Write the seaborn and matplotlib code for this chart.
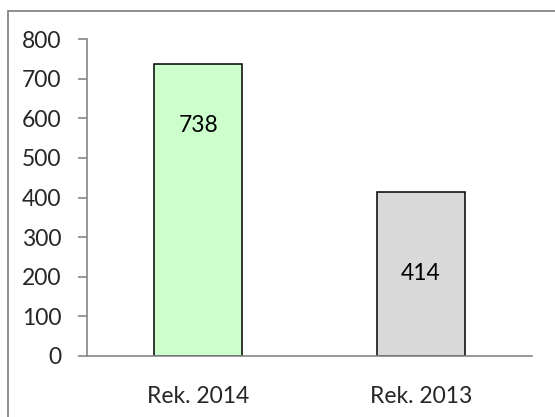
import matplotlib
matplotlib.use("Agg")
import matplotlib.pyplot as plt
from matplotlib.lines import Line2D
import seaborn as sns
import pandas as pd

categories = ["Rek. 2014", "Rek. 2013"]
values = [738, 414]
bar_colors = ["#CCFFCC", "#D9D9D9"]
label_heights = [583, 207]
y_ticks = [0, 100, 200, 300, 400, 500, 600, 700, 800]

sns.set_style("white")
plt.rcParams["font.family"] = ["Lato", "DejaVu Sans"]

df = pd.DataFrame({"category": categories, "value": values})

fig = plt.figure(figsize=(5.55, 4.17), dpi=100)
ax = fig.add_axes([87 / 555, 61.3 / 417, 445 / 555, 316.4 / 417])

sns.barplot(data=df, x="category", y="value", hue="category",
            palette=bar_colors, width=0.395, edgecolor="black",
            linewidth=1.1, legend=False, ax=ax, saturation=1)

for i, (v, h) in enumerate(zip(values, label_heights)):
    ax.text(i, h, str(v), ha="center", va="center", fontsize=16.5,
            color="black")

ax.set_ylim(0, 800)
ax.set_xlim(-0.5, 1.5)
ax.set_yticks(y_ticks)
ax.set_xlabel("")
ax.set_ylabel("")

grey = "#868686"
for side in ["top", "right"]:
    ax.spines[side].set_visible(False)
for side in ["left", "bottom"]:
    ax.spines[side].set_color(grey)
    ax.spines[side].set_linewidth(1.2)

ax.tick_params(axis="y", direction="out", length=6.5, width=1.2,
               color=grey, pad=12, labelsize=16.5, left=True)
ax.tick_params(axis="x", length=0, pad=22, labelsize=16.5)

# outer chart frame
fig.lines.append(Line2D([7.5 / 555, 7.5 / 555], [0, 1 - 11 / 417],
                        transform=fig.transFigure, color=grey, lw=1.3))
fig.lines.append(Line2D([7.5 / 555, 1], [1 - 11 / 417, 1 - 11 / 417],
                        transform=fig.transFigure, color=grey, lw=1.3))

fig.savefig("out.png", dpi=100)
